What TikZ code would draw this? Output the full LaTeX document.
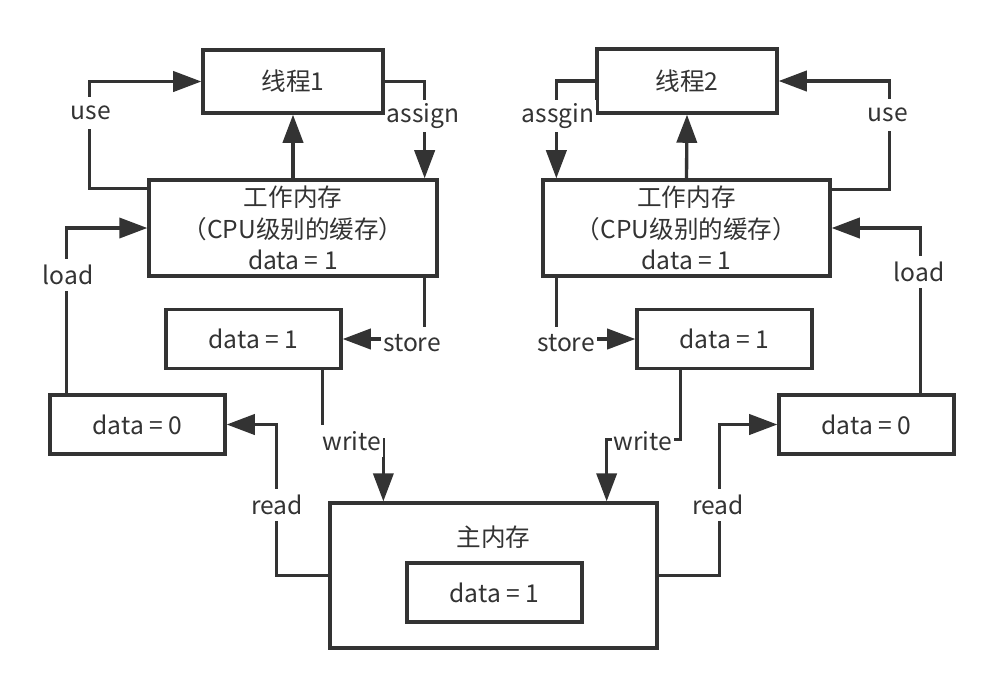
\documentclass[tikz,border=0pt]{standalone}
\usepackage{fontspec}
\setmainfont{Noto Sans CJK SC}
\usetikzlibrary{arrows.meta}
\definecolor{ink}{HTML}{333333}
\tikzset{
    box/.style={draw=ink, line width=1.9pt, minimum width=3.5cm, minimum height=1.18cm, align=center, inner sep=0pt},
    arr/.style={draw=ink, line width=1.9pt, -{Triangle[length=16pt,width=11.5pt]}},
    lbl/.style={fill=white, inner xsep=1pt, inner ysep=0pt, minimum height=18pt}
}

\begin{document}
\begin{tikzpicture}[x=0.02cm, y=-0.02cm, font=\fontsize{14pt}{18pt}\selectfont, text=ink]
    \useasboundingbox (0,0) rectangle (1000,698);
    \node [box, minimum width=3.6cm, minimum height=1.26cm] (t1) at (293,81.5) {线程1};
    \node [box, minimum width=5.76cm, minimum height=1.92cm] (w1) at (293,228) {工作内存\\（CPU级别的缓存）\\data = 1};
    \node [box] (s1) at (253.5,339) {data = 1};
    \node [box] (r1) at (137.5,424.5) {data = 0};
    \node [box, minimum width=3.6cm, minimum height=1.28cm] (t2) at (687,81) {线程2};
    \node [box, minimum width=5.74cm, minimum height=1.92cm] (w2) at (686.5,228) {工作内存\\（CPU级别的缓存）\\data = 1};
    \node [box] (s2) at (724.5,339) {data = 1};
    \node [box] (r2) at (866.5,424.5) {data = 0};
    \node [box, minimum width=6.54cm, minimum height=2.9cm] (m) at (493.5,575.5) {};
    \node (mt) at (493.5,537) {主内存};
    \node [box] (md) at (494.5,592.5) {data = 1};

    \draw[arr] ([yshift=-0.2cm]w1.north west) -- ++(-58,0) |- (t1.west);
    \draw[arr] (w1.north) -- (t1.south);
    \draw[arr] (t1.east) -| ([xshift=-0.28cm]w1.north east);
    \draw[arr] ([xshift=0.36cm]r1.north west) |- (w1.west);
    \draw[arr] ([xshift=-0.28cm]w1.south east) |- (s1.east);
    \draw[arr] ([xshift=-0.4cm]s1.south east) -- ++(0,69) -| ([xshift=1.1cm]m.north west);
    \draw[arr] (m.west) -- ++(-52,0) |- (r1.east);

    \draw[arr] ([yshift=-0.22cm]w2.north east) -- ++(58,0) |- (t2.east);
    \draw[arr] (w2.north) -- (t2.south);
    \draw[arr] (t2.west) -| ([xshift=0.3cm]w2.north west);
    \draw[arr] ([xshift=-0.7cm]r2.north east) |- (w2.east);
    \draw[arr] ([xshift=0.3cm]w2.south west) |- (s2.west);
    \draw[arr] ([xshift=0.9cm]s2.south west) -- ++(0,69) -| ([xshift=-1.04cm]m.north east);
    \draw[arr] (m.east) -- ++(61,0) |- (r2.west);

    \node [lbl] (use1) at (91,113) {use};
    \node [lbl] (asg1) at (423,116) {assign};
    \node [lbl] (ld1) at (68,275) {load};
    \node [lbl] (st1) at (412,343) {store};
    \node [lbl] (wr1) at (352,441) {write};
    \node [lbl] (rd1) at (277,505) {read};
    \node [lbl] (asg2) at (558,116) {assgin};
    \node [lbl] (use2) at (888,115) {use};
    \node [lbl] (ld2) at (919,272) {load};
    \node [lbl] (st2) at (566,343) {store};
    \node [lbl] (wr2) at (643,441) {write};
    \node [lbl] (rd2) at (718,505) {read};
\end{tikzpicture}
\end{document}
